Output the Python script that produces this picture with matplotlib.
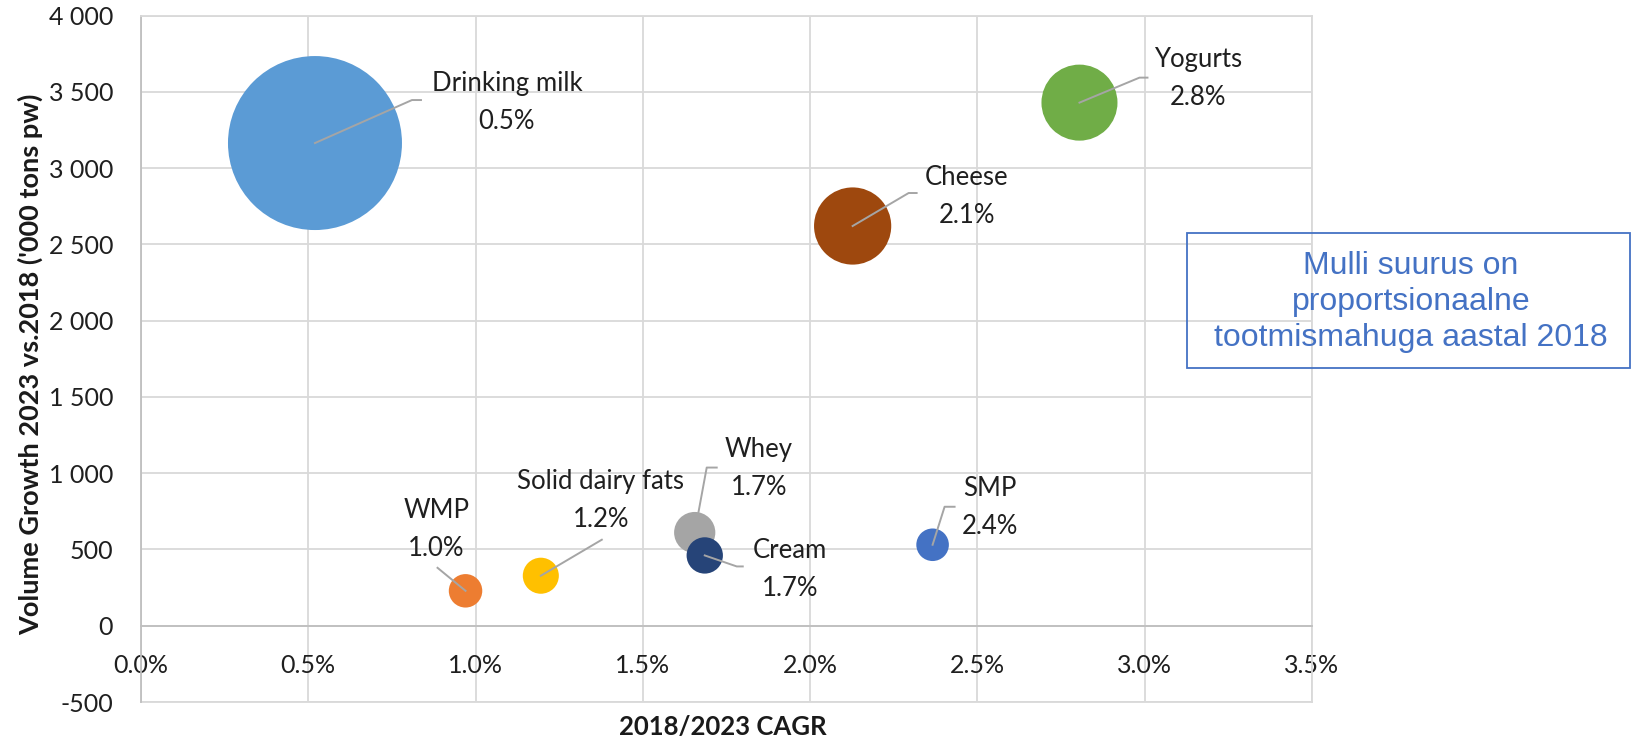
import numpy as np
import matplotlib
matplotlib.use("Agg")
import matplotlib.pyplot as plt
from matplotlib.lines import Line2D
from matplotlib.patches import Rectangle
from matplotlib.transforms import IdentityTransform

# data
products = ["Drinking milk", "WMP", "Solid dairy fats", "Whey",
            "Cream", "Cheese", "SMP", "Yogurts"]
cagr_pct = [0.52, 0.97, 1.195, 1.655, 1.685, 2.127, 2.366, 2.805]
volume_growth = [3165, 229, 328, 611, 461, 2621, 531, 3430]
# relative production volume 2018 (bubble area)
volume_2018 = [7570, 280, 325, 425, 330, 1490, 265, 1445]
colors = ["#5B9BD5", "#ED7D31", "#FFC000", "#A5A5A5",
          "#264478", "#9E480E", "#4472C4", "#70AD47"]

x_ticks = [0.0, 0.5, 1.0, 1.5, 2.0, 2.5, 3.0, 3.5]
y_ticks = [-500, 0, 500, 1000, 1500, 2000, 2500, 3000, 3500, 4000]
y_tick_labels = ["-500", "0", "500", "1 000", "1 500", "2 000",
                 "2 500", "3 000", "3 500", "4 000"]

note = "Mulli suurus on\nproportsionaalne\ntootmismahuga aastal 2018"

# layout: label offsets and leader paths in pixels (y up) from bubble centre
label_offsets = [(192, 41), (-29, 61), (60, 75), (64, 64),
                 (85, -14), (114, 30), (57, 37), (119, 24)]
leader_paths = [
    [(0, 0), (97, 43), (106, 43)],
    [(0, 0), (-28, 23)],
    [(0, 0), (61, 36)],
    [(0, 0), (12, 65), (22, 65)],
    [(0, 0), (32, -11), (38, -11)],
    [(0, 0), (56, 33), (64, 33)],
    [(0, 0), (12, 38), (22, 38)],
    [(0, 0), (60, 25), (68, 25)],
]

W, H, DPI = 1633, 739, 100
plt.rcParams['font.family'] = ['Lato', 'DejaVu Sans']
text_color = "#1f1f1f"

fig = plt.figure(figsize=(W / DPI, H / DPI), dpi=DPI)
ax = fig.add_axes([141 / W, 1 - 702 / H, (1312 - 141) / W, (702 - 15.7) / H])

ax.set_xlim(0, 3.5)
ax.set_ylim(-500, 4000)
ax.set_xticks(x_ticks)
ax.set_xticklabels([f"{t:.1f}%" for t in x_ticks])
ax.set_yticks(y_ticks)
ax.set_yticklabels(y_tick_labels)
ax.tick_params(axis="both", length=0, labelsize=18, colors=text_color)
ax.tick_params(axis="y", pad=20)
ax.tick_params(axis="x", pad=20)

ax.grid(True, color="#D9D9D9", linewidth=1.3, zorder=0)
ax.set_axisbelow(True)
for side in ["top", "right"]:
    ax.spines[side].set_color("#D9D9D9")
    ax.spines[side].set_linewidth(1.3)
ax.spines["left"].set_color("#BFBFBF")
ax.spines["left"].set_linewidth(1.3)
ax.spines["bottom"].set_position(("data", 0))
ax.spines["bottom"].set_color("#BFBFBF")
ax.spines["bottom"].set_linewidth(1.3)
ax.axhline(-500, color="#D9D9D9", linewidth=1.3, clip_on=False, zorder=0)

# bubbles: area proportional to 2018 volume
r_max_px = 87
s_max = (2 * r_max_px * 72 / DPI) ** 2
sizes = [s_max * v / max(volume_2018) for v in volume_2018]
ax.scatter(cagr_pct, volume_growth, s=sizes, c=colors, linewidths=0, zorder=3)

# labels and leader lines
for name, x, y, off, path in zip(products, cagr_pct, volume_growth,
                                 label_offsets, leader_paths):
    ax.annotate(f"{name}\n{x:.1f}%", xy=(x, y), xytext=off,
                textcoords="offset pixels", ha="center", va="center",
                fontsize=18.5, color=text_color, linespacing=1.65, zorder=5)
    cx, cy = ax.transData.transform((x, y))
    xs = [cx + p[0] for p in path]
    ys = [cy + p[1] for p in path]
    fig.add_artist(Line2D(xs, ys, transform=IdentityTransform(),
                          color="#A5A5A5", linewidth=1.4, zorder=4))

# axis titles
fig.text(723 / W, 1 - 727 / H, "2018/2023 CAGR", ha="center", va="center",
         fontsize=18.5, fontweight="bold", color="#1a1a1a")
fig.text(30 / W, 1 - 364 / H, "Volume Growth 2023 vs.2018 ('000 tons pw)",
         ha="center", va="center", rotation=90, fontsize=19.5,
         fontweight="bold", color="#1a1a1a")

# note box
fig.add_artist(Rectangle((1187 / W, 1 - 368 / H), (1630 - 1187) / W,
                         (368 - 232.7) / H, transform=fig.transFigure,
                         fill=False, edgecolor="#4472C4", linewidth=1.3))
fig.text(1411 / W, 1 - 302 / H, note, ha="center", va="center",
         fontsize=23, color="#4472C4", family="Liberation Sans",
         linespacing=1.27)

fig.savefig("out.png", dpi=DPI)
